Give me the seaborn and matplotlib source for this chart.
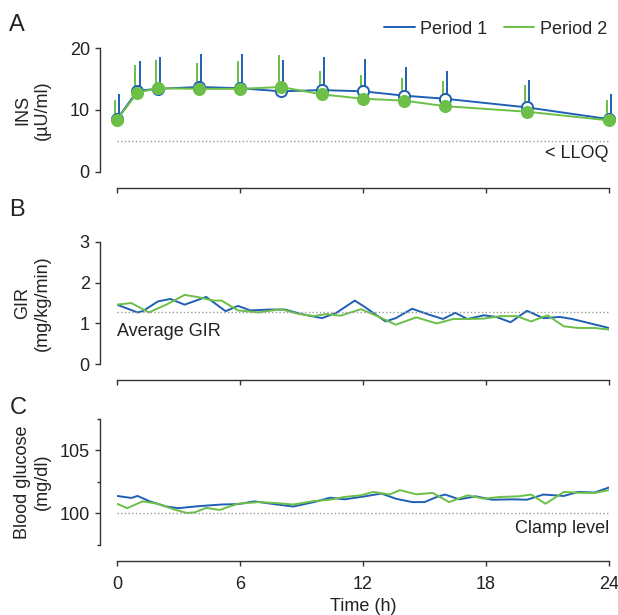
import numpy as np
import pandas as pd
import matplotlib
matplotlib.use('Agg')
import matplotlib.pyplot as plt
from matplotlib.lines import Line2D
import seaborn as sns

sns.set_style('ticks')
plt.rcParams['font.family'] = ['Liberation Sans', 'DejaVu Sans']

BLUE = '#1f5fb4'
GREEN = '#6cbf47'
FS = 13

# 패널 A: 인슐린 (평균 + 상단 오차)
ins_time = [0, 1, 2, 4, 6, 8, 10, 12, 14, 16, 20, 24]
ins_p1 = [8.5, 13.1, 13.4, 13.7, 13.5, 13.0, 13.2, 13.0, 12.3, 11.8, 10.4, 8.5]
ins_p1_upper = [12.6, 17.9, 18.6, 19.1, 19.1, 18.1, 18.5, 18.3, 17.0, 16.3, 14.9, 12.6]
ins_p2 = [8.4, 12.8, 13.5, 13.4, 13.4, 13.7, 12.5, 11.8, 11.5, 10.6, 9.7, 8.3]
ins_p2_upper = [11.6, 17.3, 18.1, 17.5, 17.9, 18.9, 16.3, 15.6, 15.1, 14.6, 14.05, 11.6]
lloq = 5.0

# 패널 B: GIR
gir_t1 = [0, 1.0, 1.25, 2.0, 2.6, 3.3, 4.35, 5.3, 5.9, 6.5, 7.45, 8.2, 9.0, 10.0, 10.7,
          11.6, 12.1, 13.1, 13.6, 14.4, 15.2, 15.9, 16.5, 17.1, 17.9, 18.5, 19.2, 20.0,
          20.8, 21.6, 22.2, 24.0]
gir_p1 = [1.46, 1.27, 1.30, 1.54, 1.60, 1.46, 1.65, 1.30, 1.43, 1.32, 1.34, 1.34, 1.23,
          1.13, 1.26, 1.56, 1.40, 1.05, 1.13, 1.36, 1.22, 1.11, 1.26, 1.11, 1.20, 1.16,
          1.03, 1.31, 1.13, 1.16, 1.11, 0.89]
gir_t2 = [0, 0.7, 1.55, 2.4, 3.3, 4.0, 4.7, 5.1, 5.9, 6.9, 8.0, 8.8, 9.6, 10.2, 10.9,
          11.9, 12.7, 13.6, 14.6, 15.6, 16.4, 17.1, 17.9, 18.7, 19.5, 20.2, 21.0, 21.8,
          22.5, 23.3, 24.0]
gir_p2 = [1.46, 1.50, 1.27, 1.46, 1.70, 1.64, 1.56, 1.56, 1.32, 1.27, 1.35, 1.24, 1.18,
          1.23, 1.19, 1.35, 1.18, 0.97, 1.15, 1.00, 1.11, 1.11, 1.12, 1.18, 1.18, 1.05,
          1.20, 0.93, 0.89, 0.89, 0.85]
avg_gir = 1.28

# 패널 C: 혈당
bg_t1 = [0, 0.7, 1.0, 1.6, 2.4, 3.0, 4.0, 5.1, 5.9, 6.7, 7.8, 8.6, 9.6, 10.4, 11.1,
         12.1, 12.9, 13.6, 14.4, 15.0, 15.6, 16.0, 16.7, 17.5, 18.3, 19.3, 20.0, 20.8,
         21.8, 22.5, 23.3, 24.0]
bg_p1 = [101.38, 101.22, 101.38, 100.95, 100.54, 100.41, 100.57, 100.70, 100.73, 100.95,
         100.70, 100.54, 100.89, 101.24, 101.11, 101.35, 101.57, 101.16, 100.89, 100.89,
         101.30, 101.49, 101.11, 101.35, 101.08, 101.11, 101.08, 101.49, 101.38, 101.70,
         101.65, 102.05]
bg_t2 = [0, 0.5, 1.25, 2.0, 2.8, 3.4, 3.8, 4.35, 5.0, 5.9, 6.9, 7.8, 8.6, 9.6, 10.4,
         11.1, 11.9, 12.5, 13.3, 13.8, 14.6, 15.4, 16.2, 17.1, 17.9, 18.7, 19.6, 20.2,
         20.9, 21.8, 22.7, 23.3, 24.0]
bg_p2 = [100.76, 100.41, 100.95, 100.76, 100.30, 100.03, 100.08, 100.43, 100.27, 100.76,
         100.89, 100.81, 100.70, 100.97, 101.08, 101.30, 101.43, 101.70, 101.49, 101.84,
         101.51, 101.62, 100.89, 101.43, 101.16, 101.30, 101.35, 101.49, 100.76, 101.70,
         101.62, 101.62, 101.84]
clamp_level = 100

x_ticks = [0, 6, 12, 18, 24]


def style_axis(ax):
    """축 스타일 (떨어진 스파인)"""
    sns.despine(ax=ax)
    ax.spines['left'].set_position(('outward', 12.5))
    ax.spines['bottom'].set_position(('outward', 11.5))
    for s in ['left', 'bottom']:
        ax.spines[s].set_color('#333333')
        ax.spines[s].set_linewidth(1.0)
    ax.tick_params(axis='both', length=3.6, width=1.0, color='#333333',
                   labelsize=FS, labelcolor='#222222')
    ax.tick_params(axis='y', pad=3.5)
    ax.tick_params(axis='x', pad=7)
    ax.set_xlim(0, 24)
    ax.set_xticks(x_ticks)


fig = plt.figure(figsize=(6.18, 6.15), dpi=100)
ax_a = fig.add_axes([0.1893, 0.7208, 0.7961, 0.2011])
ax_b = fig.add_axes([0.1893, 0.4076, 0.7961, 0.1993])
ax_c = fig.add_axes([0.1893, 0.1141, 0.7961, 0.2049])

# A
dx = 0.12
t = np.array(ins_time, dtype=float)
for means, upper, col, off, face in [(ins_p1, ins_p1_upper, BLUE, dx, 'white'),
                                     (ins_p2, ins_p2_upper, GREEN, -dx, GREEN)]:
    means = np.array(means)
    upper = np.array(upper)
    ax_a.errorbar(t + off, means, yerr=[np.zeros_like(means), upper - means],
                  fmt='none', ecolor=col, elinewidth=1.4, capsize=0, clip_on=False, zorder=2)
    df = pd.DataFrame({'t': t, 'v': means})
    sns.lineplot(data=df, x='t', y='v', ax=ax_a, color=col, lw=1.4, marker='o',
                 markersize=8, markerfacecolor=face, markeredgecolor=col,
                 markeredgewidth=1.4, clip_on=False, zorder=3)
ax_a.axhline(lloq, color='#999999', ls=':', lw=1)
style_axis(ax_a)
ax_a.set_ylim(0, 20)
ax_a.set_yticks([0, 10, 20])
ax_a.set_xticklabels([])
ax_a.set_xlabel('')
ax_a.set_ylabel('INS\n(µU/ml)', fontsize=FS)
ax_a.text(24, 2.9, '< LLOQ', ha='right', va='center', fontsize=FS, color='#222222')

# B
sns.lineplot(x=gir_t1, y=gir_p1, ax=ax_b, color=BLUE, lw=1.4)
sns.lineplot(x=gir_t2, y=gir_p2, ax=ax_b, color=GREEN, lw=1.4)
ax_b.axhline(avg_gir, color='#999999', ls=':', lw=1)
style_axis(ax_b)
ax_b.set_ylim(0, 3)
ax_b.set_yticks([0, 1, 2, 3])
ax_b.set_xticklabels([])
ax_b.set_ylabel('GIR\n(mg/kg/min)', fontsize=FS)
ax_b.text(0, 0.8, 'Average GIR', ha='left', va='center', fontsize=FS, color='#222222')

# C
sns.lineplot(x=bg_t1, y=bg_p1, ax=ax_c, color=BLUE, lw=1.4)
sns.lineplot(x=bg_t2, y=bg_p2, ax=ax_c, color=GREEN, lw=1.4)
ax_c.axhline(clamp_level, color='#999999', ls=':', lw=1)
style_axis(ax_c)
ax_c.set_ylim(97.5, 107.5)
ax_c.set_yticks([100, 105])
ax_c.set_yticks([97.5, 102.5, 107.5], minor=True)
ax_c.tick_params(axis='y', which='minor', length=2.4, width=1.0, color='#333333')
ax_c.set_xticklabels([str(v) for v in x_ticks])
ax_c.set_xlabel('Time (h)', fontsize=FS, color='#222222', labelpad=4)
ax_c.set_ylabel('Blood glucose\n(mg/dl)', fontsize=FS)
ax_c.text(24, 98.8, 'Clamp level', ha='right', va='center', fontsize=FS, color='#222222')

for ax in [ax_a, ax_b, ax_c]:
    ax.yaxis.set_label_coords(-0.135, 0.5)
    ax.yaxis.label.set_color('#222222')

# 패널 문자
fig.text(0.015, 1 - 25 / 615, 'A', fontsize=17, va='center', color='#222222')
fig.text(0.015, 1 - 210 / 615, 'B', fontsize=17, va='center', color='#222222')
fig.text(0.015, 1 - 408 / 615, 'C', fontsize=17, va='center', color='#222222')

handles = [Line2D([], [], color=BLUE, lw=1.4), Line2D([], [], color=GREEN, lw=1.4)]
fig.legend(handles, ['Period 1', 'Period 2'], loc='center right', ncol=2,
           bbox_to_anchor=(0.982, 1 - 29 / 615), frameon=False, fontsize=FS,
           handlelength=1.7, handletextpad=0.3, columnspacing=0.9, borderpad=0,
           borderaxespad=0)

plt.savefig('out.png', dpi=100)
